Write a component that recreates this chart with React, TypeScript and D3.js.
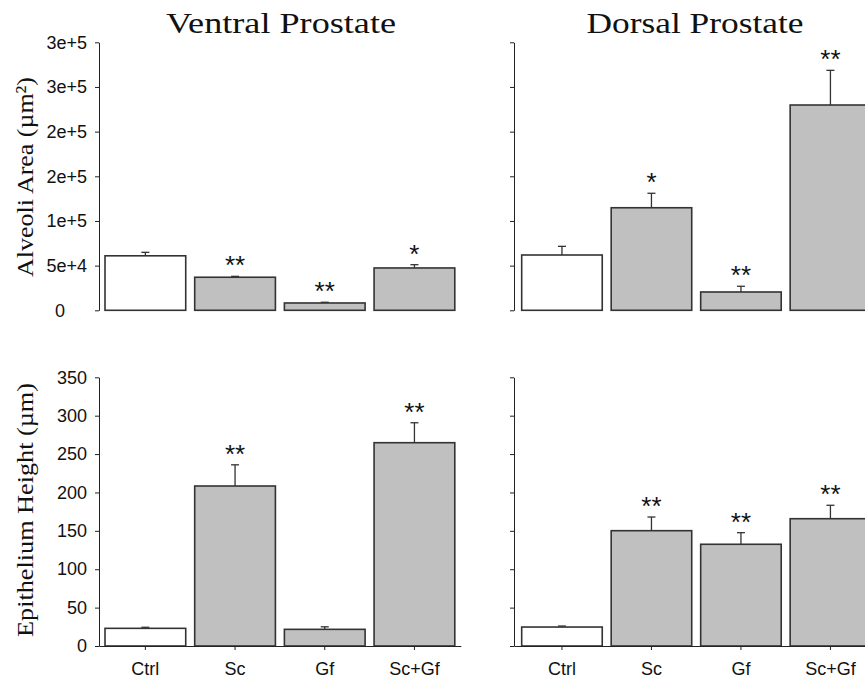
import React, { useEffect, useRef } from 'react';
import * as d3 from 'd3';

const categories = ['Ctrl', 'Sc', 'Gf', 'Sc+Gf'];

const ventralArea = [61000, 37000, 8200, 47400];
const ventralAreaErr = [3900, 1000, 800, 3650];
const dorsalArea = [61900, 114800, 20500, 229800];
const dorsalAreaErr = [9700, 16200, 6400, 38800];

const ventralHeight = [23, 208.4, 21.7, 264.8];
const ventralHeightErr = [1.4, 27.6, 3.3, 26];
const dorsalHeight = [24.7, 150.2, 132.5, 165.8];
const dorsalHeightErr = [1.3, 17.8, 15.1, 17.5];

const ventralAreaStars = ['', '**', '**', '*'];
const dorsalAreaStars = ['', '*', '**', '**'];
const ventralHeightStars = ['', '**', '', '**'];
const dorsalHeightStars = ['', '**', '**', '**'];

const areaTicks = [0, 50000, 100000, 150000, 200000, 250000, 300000];
const areaTickLabels = ['0', '5e+4', '1e+5', '2e+5', '2e+5', '3e+5', '3e+5'];
const heightTicks = [0, 50, 100, 150, 200, 250, 300, 350];
const heightTickLabels = ['0', '50', '100', '150', '200', '250', '300', '350'];

const titles = ['Ventral Prostate', 'Dorsal Prostate'];
const yTitles = ['Alveoli Area (\u00b5m\u00b2)', 'Epithelium Height (\u00b5m)'];

const sans = '"Liberation Sans", Arial, sans-serif';
const serif = '"Liberation Serif", "DejaVu Serif", serif';

interface PanelProps {
  xRange: [number, number]
  outer: number
  yRange: [number, number]
  max: number
  ticks: number[]
  tickLabels: string[]
  showLabels: boolean
  values: number[]
  errs: number[]
  stars: string[]
  xAxis: boolean
  zeroCentered?: boolean
}

function Panel(props: PanelProps) {
  const yRef = useRef<SVGGElement>(null)
  const xRef = useRef<SVGGElement>(null)

  const x = d3.scaleBand()
    .domain(categories)
    .range(props.xRange)
    .paddingInner(0.1)
    .paddingOuter(props.outer)
  const y = d3.scaleLinear().domain([0, props.max]).range(props.yRange)

  useEffect(() => {
    const g = d3.select(yRef.current)
    g.selectAll('*').remove()
    g.call(
      d3.axisLeft(y)
        .tickValues(props.ticks)
        .tickFormat((_, i) => (props.showLabels ? props.tickLabels[i] : ''))
        .tickSize(4)
        .tickPadding(8)
        .tickSizeOuter(0)
    )
    g.attr('font-family', sans).attr('font-size', 18)
    g.selectAll('path, line').attr('stroke', '#222')
    g.selectAll('text').attr('fill', '#111')
    // the zero label of the area axis sits centred under the others in the original
    if (props.zeroCentered) {
      g.selectAll('.tick text')
        .filter((d) => d === 0)
        .attr('text-anchor', 'middle')
        .attr('x', -39)
    }

    if (props.xAxis) {
      const gx = d3.select(xRef.current)
      gx.selectAll('*').remove()
      gx.call(d3.axisBottom(x).tickSize(4).tickPadding(12).tickSizeOuter(0))
      gx.attr('font-family', sans).attr('font-size', 18)
      gx.selectAll('path, line').attr('stroke', '#222')
      gx.selectAll('text').attr('fill', '#111')
    }
  }, [])

  const bw = x.bandwidth()
  return (
    <g>
      {categories.map((c, i) => {
        const cx = (x(c) as number) + bw / 2
        const top = y(props.values[i])
        const et = y(props.values[i] + props.errs[i])
        return (
          <g key={c}>
            <line x1={cx} x2={cx} y1={top} y2={et} stroke="#333" strokeWidth={1.3} />
            <line x1={cx - 4} x2={cx + 4} y1={et} y2={et} stroke="#333" strokeWidth={1.3} />
            <rect
              x={x(c)}
              y={top}
              width={bw}
              height={y(0) - top}
              fill={i === 0 ? '#ffffff' : '#c0c0c0'}
              stroke="#333"
              strokeWidth={1.6}
            />
            {props.stars[i] && (
              <text x={cx} y={et - 2} textAnchor="middle" fontFamily={sans} fontSize={26} fill="#111">
                {props.stars[i]}
              </text>
            )}
          </g>
        )
      })}
      <g ref={yRef} transform={`translate(${props.xRange[0]},0)`} />
      {props.xAxis && <g ref={xRef} transform={`translate(0,${props.yRange[0]})`} />}
    </g>
  )
}

export default function App() {
  const left: [number, number] = [99, 460.8]
  const right: [number, number] = [514, 878.4]
  const topY: [number, number] = [310.3, 42.3]
  const botY: [number, number] = [646, 377.3]

  return (
    <svg width={865} height={681} style={{ position: 'absolute', left: 0, top: 0, background: '#fff' }}>
      <rect width={865} height={681} fill="#fff" />
      <Panel xRange={left} outer={0.067} yRange={topY} max={300000} ticks={areaTicks}
        tickLabels={areaTickLabels} showLabels values={ventralArea} errs={ventralAreaErr}
        stars={ventralAreaStars} xAxis={false} zeroCentered />
      <Panel xRange={right} outer={0.086} yRange={topY} max={300000} ticks={areaTicks}
        tickLabels={areaTickLabels} showLabels={false} values={dorsalArea} errs={dorsalAreaErr}
        stars={dorsalAreaStars} xAxis={false} />
      <Panel xRange={left} outer={0.067} yRange={botY} max={350} ticks={heightTicks}
        tickLabels={heightTickLabels} showLabels values={ventralHeight} errs={ventralHeightErr}
        stars={ventralHeightStars} xAxis />
      <Panel xRange={right} outer={0.086} yRange={botY} max={350} ticks={heightTicks}
        tickLabels={heightTickLabels} showLabels={false} values={dorsalHeight} errs={dorsalHeightErr}
        stars={dorsalHeightStars} xAxis />

      <text x={281} y={33} textAnchor="middle" fontFamily={serif} fontSize={30} fill="#111"
        textLength={230} lengthAdjust="spacingAndGlyphs">{titles[0]}</text>
      <text x={695} y={33} textAnchor="middle" fontFamily={serif} fontSize={30} fill="#111"
        textLength={217} lengthAdjust="spacingAndGlyphs">{titles[1]}</text>

      <text transform="translate(33,177) rotate(-90)" textAnchor="middle" fontFamily={serif}
        fontSize={24} fill="#111" textLength={200} lengthAdjust="spacingAndGlyphs">{yTitles[0]}</text>
      <text transform="translate(33,510) rotate(-90)" textAnchor="middle" fontFamily={serif}
        fontSize={24} fill="#111" textLength={254} lengthAdjust="spacingAndGlyphs">{yTitles[1]}</text>
    </svg>
  )
}
